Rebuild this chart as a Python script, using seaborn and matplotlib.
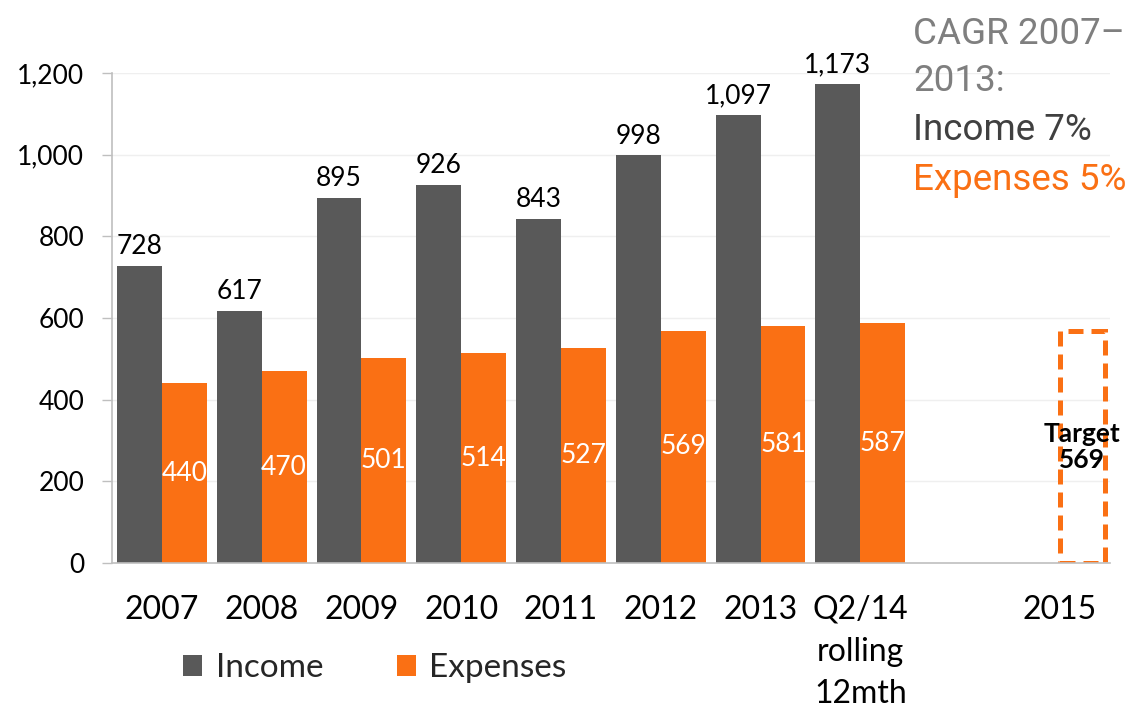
import matplotlib
matplotlib.use("Agg")
import matplotlib.pyplot as plt
from matplotlib import font_manager
import seaborn as sns
import pandas as pd
import numpy as np

# ---- data ----
years = ["2007", "2008", "2009", "2010", "2011", "2012", "2013", "Q2/14\nrolling\n12mth"]
income = [728, 617, 895, 926, 843, 998, 1097, 1173]
expenses = [440, 470, 501, 514, 527, 569, 581, 587]
target_year = "2015"
target_expenses = 569
order = years + [" ", target_year]

rows = []
for y, inc, exp in zip(years, income, expenses):
    rows.append({"period": y, "series": "Income", "value": inc})
    rows.append({"period": y, "series": "Expenses", "value": exp})
rows.append({"period": target_year, "series": "Expenses", "value": target_expenses})
df = pd.DataFrame(rows)

GREY = "#595959"
ORANGE = "#FA7014"

sns.set_theme(style="white")
plt.rcParams["font.family"] = ["Lato", "DejaVu Sans"]

fig = plt.figure(figsize=(11.29, 7.13), dpi=100)
ax = fig.add_axes([0.0992, 0.2104, 0.8838, 0.6872])

sns.barplot(data=df, x="period", y="value", hue="series", order=order,
            hue_order=["Income", "Expenses"], palette=[GREY, ORANGE],
            width=0.9, gap=0, saturation=1, ax=ax, legend=True,
            edgecolor="none", err_kws={"linewidth": 0})

ax.set_xlim(-0.5, len(order) - 0.5)
ax.set_ylim(0, 1200)
ax.set_yticks(np.arange(0, 1201, 200))
ax.set_yticklabels([f"{v:,}" for v in range(0, 1201, 200)])
ax.set_xlabel("")
ax.set_ylabel("")

ax.yaxis.grid(True, color="#EFEFEF", linewidth=1)
ax.set_axisbelow(True)
for side in ["top", "right"]:
    ax.spines[side].set_visible(False)
ax.spines["left"].set_color("#BFBFBF")
ax.spines["bottom"].set_color("#BFBFBF")
ax.spines["left"].set_linewidth(1.2)
ax.spines["bottom"].set_linewidth(1.2)

ax.tick_params(axis="y", left=True, length=7, width=1, color="#BFBFBF",
               labelsize=19, pad=13, labelcolor="black")
ax.tick_params(axis="x", bottom=False, labelsize=23, pad=17, labelcolor="black")
for lbl in ax.get_xticklabels():
    lbl.set_linespacing(1.5)

income_bars, expense_bars = ax.containers[0], ax.containers[1]

# value labels
ax.bar_label(income_bars, labels=[f"{v:,}" for v in income], padding=5,
             fontsize=19, color="black", clip_on=False)

n = len(years)
exp_patches = list(expense_bars)
ax.bar_label(expense_bars, labels=[str(v) for v in expenses] + [""] * (len(exp_patches) - n),
             label_type="center", fontsize=19, color="white")

# target bar: dashed outline only
for p in exp_patches:
    x_c = p.get_x() + p.get_width() / 2
    if abs(x_c - (order.index(target_year) + 0.225)) < 0.3:
        p.set_facecolor("none")
        p.set_edgecolor(ORANGE)
        p.set_linewidth(3.6)
        p.set_linestyle((0, (3, 1.6)))
        ax.text(x_c, target_expenses / 2, f"Target\n{target_expenses}",
                ha="center", va="center", fontsize=19, fontweight="bold",
                color="black", linespacing=1.1)

# legend
handles, labels = ax.get_legend_handles_labels()
ax.legend_.remove()
fig.legend(handles, labels, loc="center", bbox_to_anchor=(0.332, 0.063),
           ncol=2, frameon=False, fontsize=24, handlelength=0.58,
           handleheight=0.58, handletextpad=0.4, columnspacing=2.2)

# CAGR note
available = {f.name for f in font_manager.fontManager.ttflist}
note_font = [f for f in ["Liberation Sans Narrow", "Roboto", "DejaVu Sans"] if f in available]
note_size = 26.5
fig.text(0.809, 0.953, "CAGR 2007–", fontsize=note_size, color="#7F7F7F",
         family=note_font, ha="left", va="center")
fig.text(0.809, 0.886, "2013:", fontsize=note_size, color="#7F7F7F",
         family=note_font, ha="left", va="center")
fig.text(0.809, 0.817, "Income 7%", fontsize=note_size, color="#404040",
         family=note_font, ha="left", va="center")
fig.text(0.809, 0.748, "Expenses 5%", fontsize=note_size, color=ORANGE,
         family=note_font, ha="left", va="center")

fig.savefig("out.png", dpi=100)
